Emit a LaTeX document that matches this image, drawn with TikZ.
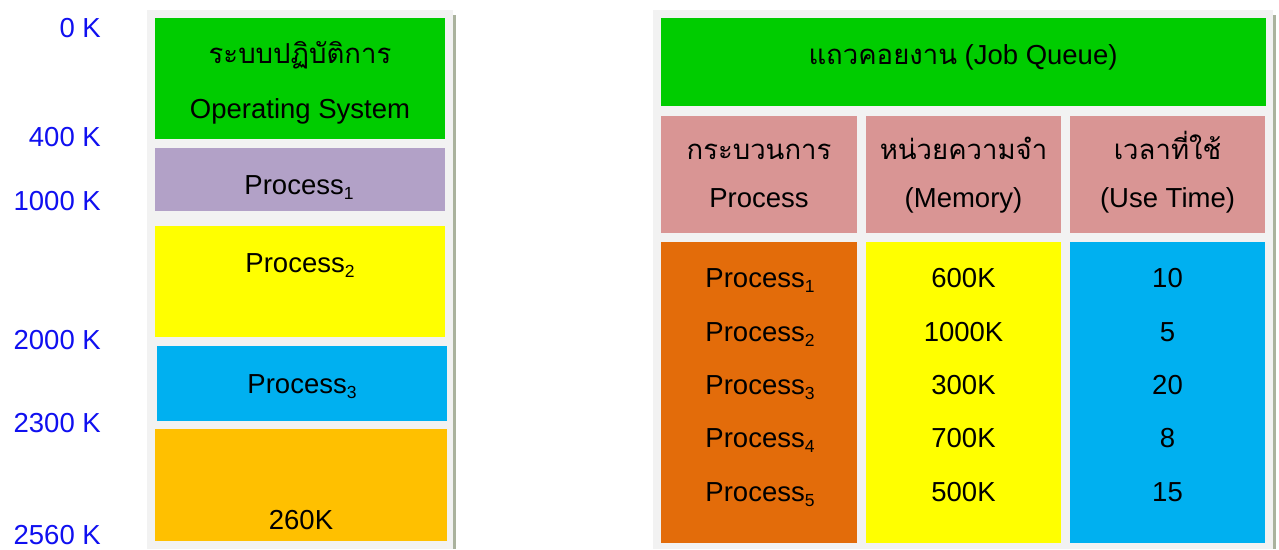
\documentclass[tikz,border=0pt]{standalone}
\usepackage{fontspec}
\setmainfont{Liberation Sans}
\newfontfamily\thaifont[Script=Thai]{Loma}
\definecolor{panelgray}{HTML}{F2F2F2}
\definecolor{edgeshade}{HTML}{AAB29D}
\definecolor{osgreen}{HTML}{00CC00}
\definecolor{lilac}{HTML}{B2A1C7}
\definecolor{lemon}{HTML}{FFFF00}
\definecolor{sky}{HTML}{00B0F0}
\definecolor{amber}{HTML}{FFC000}
\definecolor{rose}{HTML}{D99594}
\definecolor{rust}{HTML}{E36C0A}
\definecolor{memblue}{HTML}{1010F0}
% lowered index after "Process"
\newcommand\psub[1]{\raisebox{-5pt}{\fontsize{17.5}{17.5}\selectfont #1}}
\begin{document}
\begin{tikzpicture}[x=1pt,y=-1pt,
  panel/.style={fill=panelgray, draw=none, inner sep=0pt, outer sep=0pt, anchor=north west},
  cell/.style={draw=none, inner sep=0pt, outer sep=0pt, anchor=north west},
  shade/.style={draw=edgeshade, line width=2.5pt},
  txt/.style={anchor=base, inner sep=0pt, font=\fontsize{27.5}{30}\selectfont},
  thai/.style={anchor=base, inner sep=0pt, font=\thaifont\fontsize{27.5}{30}\selectfont},
  lbl/.style={anchor=base east, inner sep=0pt, text=memblue, font=\fontsize{27.5}{30}\selectfont}]
\useasboundingbox (0,0) rectangle (1279,549);
\fill[white] (0,0) rectangle (1279,549);

% grey backing panels with a thin shaded right edge
\node[panel, minimum width=306, minimum height=539] (leftpanel) at (147,10) {};
\node[panel, minimum width=620, minimum height=539] (rightpanel) at (653,10) {};
\draw[shade] ([xshift=1.25pt,yshift=-5pt]leftpanel.north east) -- ([xshift=1.25pt]leftpanel.south east);
\draw[shade] ([xshift=1.25pt,yshift=-5pt]rightpanel.north east) -- ([xshift=1.25pt]rightpanel.south east);

% memory map
\node[cell, fill=osgreen, minimum width=290, minimum height=121] (os) at (155,18) {};
\node[cell, fill=lilac, minimum width=290, minimum height=63] (p1) at (155,148) {};
\node[cell, fill=lemon, minimum width=290, minimum height=111] (p2) at (155,226) {};
\node[cell, fill=sky, minimum width=290, minimum height=75] (p3) at (157,346) {};
\node[cell, fill=amber, minimum width=292, minimum height=112] (hole) at (155,429) {};

\node[thai] (osth) at (300,63) {ระบบปฏิบัติการ};
\node[txt] (osen) at (300,118) {Operating System};
\node[txt] (p1t) at (299,194) {Process\psub{1}};
\node[txt] (p2t) at (300,272) {Process\psub{2}};
\node[txt] (p3t) at (302,393) {Process\psub{3}};
\node[txt] (holet) at (301,529) {260K};

% address marks
\node[lbl] (a0) at (101,37) {0 K};
\node[lbl] (a400) at (101,146) {400 K};
\node[lbl] (a1000) at (101,210) {1000 K};
\node[lbl] (a2000) at (101,349) {2000 K};
\node[lbl] (a2300) at (101,432) {2300 K};
\node[lbl] (a2560) at (101,544) {2560 K};

% job queue table
\node[cell, fill=osgreen, minimum width=605, minimum height=88] (jq) at (661,18) {};
\node[cell, fill=rose, minimum width=196, minimum height=117] (h1) at (661,116) {};
\node[cell, fill=rose, minimum width=195, minimum height=117] (h2) at (866,116) {};
\node[cell, fill=rose, minimum width=195, minimum height=117] (h3) at (1070,116) {};
\node[cell, fill=rust, minimum width=196, minimum height=301] (c1) at (661,242) {};
\node[cell, fill=lemon, minimum width=195, minimum height=301] (c2) at (866,242) {};
\node[cell, fill=sky, minimum width=195, minimum height=301] (c3) at (1070,242) {};

\node[txt] (jqt) at (963,64) {{\thaifont\fontsize{27.5}{30}\selectfont แถวคอยงาน} (Job Queue)};
\node[thai] (h1th) at (759,159) {กระบวนการ};
\node[thai] (h2th) at (963.5,159) {หน่วยความจำ};
\node[thai] (h3th) at (1167.5,159) {เวลาที่ใช้};
\node[txt] (h1en) at (759,207) {Process};
\node[txt] (h2en) at (963.5,207) {(Memory)};
\node[txt] (h3en) at (1167.5,207) {(Use Time)};

\foreach \i/\mem/\tm/\yy in {1/600K/10/287, 2/1000K/5/341, 3/300K/20/394, 4/700K/8/447, 5/500K/15/501} {
  \node[txt] (r\i p) at (760,\yy) {Process\psub{\i}};
  \node[txt] (r\i m) at (963.5,\yy) {\mem};
  \node[txt] (r\i t) at (1167.5,\yy) {\tm};
}
\end{tikzpicture}
\end{document}
